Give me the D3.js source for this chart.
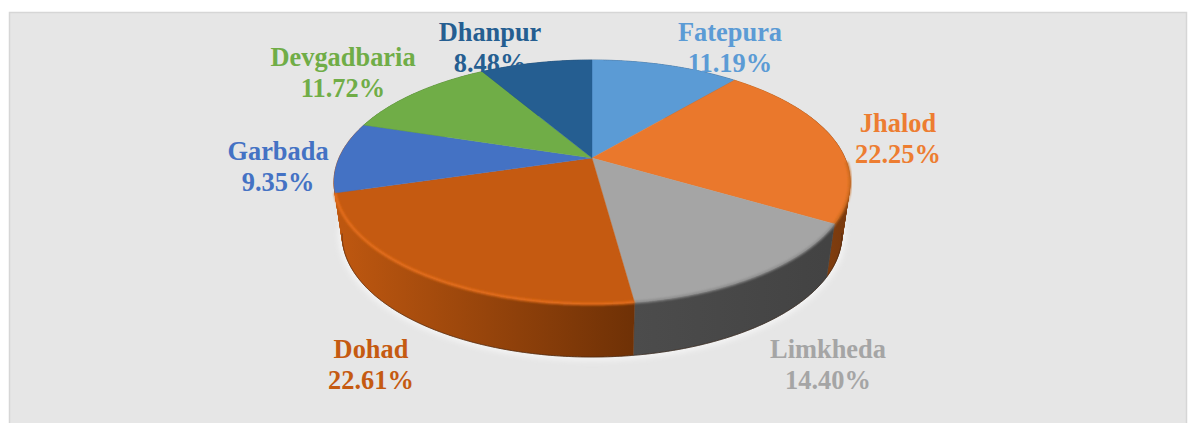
<!DOCTYPE html>
<html lang="en">
<head>
    <meta charset="UTF-8">
    <title>pie</title>
    <script src="https://d3js.org/d3.v7.min.js"></script>
    <style>
        body {
            margin: 0;
            background: white;
        }
        svg {
            display: block;
        }
        text {
            font-family: "Liberation Serif", serif;
            font-weight: bold;
            font-size: 26.4px;
            text-anchor: middle;
        }
    </style>
</head>
<body>
    <svg></svg>
    <script>
        // Chart values
        var categories = ["Fatepura", "Jhalod", "Limkheda", "Dohad", "Garbada", "Devgadbaria", "Dhanpur"];
        var shares = [11.19, 22.25, 14.40, 22.61, 9.35, 11.72, 8.48];
        var shareLabels = ["11.19%", "22.25%", "14.40%", "22.61%", "9.35%", "11.72%", "8.48%"];

        // Styles
        var topColors = ["#5b9bd5", "#ea782c", "#a5a5a5", "#c55a11", "#4472c4", "#70ad47", "#255e91"];
        var labelColors = ["#5b9bd5", "#ed7d31", "#a5a5a5", "#c55a11", "#4472c4", "#70ad47", "#255e91"];
        var bevelColors = ["#5b9bd5", "#c9691f", "#8c8c8c", "#e8701c", "#4472c4", "#70ad47", "#255e91"];
        // Garbada's wall only shows as a sliver next to Dohad, it reads as the same orange
        var sideStops = [
            ["#35597a", "#35597a"],
            ["#a8560f", "#7a3a0e"],
            ["#4c4c4c", "#434343"],
            ["#bd5710", "#6f3106"],
            ["#bd5710", "#bd5710"],
            ["#4a7230", "#4a7230"],
            ["#183e60", "#183e60"]
        ];

        // Label centres, first-line baseline
        var labelSpots = [[730, 41], [898, 132], [828, 358], [371, 358], [278, 160], [343, 66], [490, 41]];
        var lineGap = 30.5;

        var width = 1188, height = 423;
        var svg = d3.select("svg").attr("width", width).attr("height", height);
        var defs = svg.append("defs");

        defs.append("filter").attr("id", "soft")
            .attr("x", "-10%").attr("y", "-10%").attr("width", "120%").attr("height", "120%")
            .append("feGaussianBlur").attr("stdDeviation", 3);
        defs.append("filter").attr("id", "bevel")
            .attr("x", "-10%").attr("y", "-10%").attr("width", "120%").attr("height", "120%")
            .append("feGaussianBlur").attr("stdDeviation", 0.9);

        // Panel
        svg.append("rect").attr("x", 9.5).attr("y", 12.5).attr("width", 1177).attr("height", 420)
            .attr("fill", "#e6e6e6").attr("stroke", "#d6d6d6").attr("stroke-width", 1.5);

        // Perspective projection of the pie disc; k pulls the far side in
        var k = 0.1967;
        var levels = [
            {cx: 592, cy: 158, a: 253, b: 117.3},
            {cx: 592, cy: 211, a: 245, b: 117.3}
        ];
        function rim(angle, level) {
            var l = levels[level];
            var u = Math.sin(angle), v = -Math.cos(angle);
            var w = 1 - k * v;
            return [l.cx + l.a * u / w, l.cy + l.b * v / w];
        }
        function arcPoints(a0, a1, level) {
            var n = Math.max(2, Math.ceil((a1 - a0) / 0.01));
            return d3.range(n + 1).map(function(i) {
                return rim(a0 + (a1 - a0) * i / n, level);
            });
        }

        var slices = d3.pie().sort(null).value(function(d) { return d; })(shares);
        var line = d3.line();
        var outline = arcPoints(0, 2 * Math.PI, 1);

        // Halo around the lower edge
        svg.append("path").attr("d", line(outline) + "Z")
            .attr("fill", "none").attr("stroke", "#fafafa").attr("stroke-width", 5)
            .attr("filter", "url(#soft)");

        // Side wall, one ruled strip per slice
        var sides = svg.append("g");
        slices.forEach(function(s, i) {
            var top = arcPoints(s.startAngle, s.endAngle, 0);
            var bottom = arcPoints(s.startAngle, s.endAngle, 1);
            var d = "";
            for (var j = 0; j < top.length - 1; j++) {
                d += line([top[j], top[j + 1], bottom[j + 1], bottom[j]]) + "Z";
            }
            var grad = defs.append("linearGradient").attr("id", "side" + i)
                .attr("gradientUnits", "userSpaceOnUse")
                .attr("x1", d3.min(bottom, function(p) { return p[0]; })).attr("y1", 0)
                .attr("x2", d3.max(bottom, function(p) { return p[0]; })).attr("y2", 0);
            grad.append("stop").attr("offset", 0).attr("stop-color", sideStops[i][0]);
            grad.append("stop").attr("offset", 1).attr("stop-color", sideStops[i][1]);
            sides.append("path").attr("d", d)
                .attr("fill", "url(#side" + i + ")")
                .attr("stroke", "url(#side" + i + ")").attr("stroke-width", 0.5);
        });

        // Dark line along the bottom edge
        svg.append("path")
            .attr("d", line(arcPoints(slices[1].endAngle - 0.35, slices[3].endAngle + 0.1, 1)))
            .attr("fill", "none").attr("stroke", "#3a2416").attr("stroke-width", 1).attr("opacity", 0.55);

        // Top faces
        var tops = svg.append("g");
        slices.forEach(function(s, i) {
            var pts = [[levels[0].cx, levels[0].cy]].concat(arcPoints(s.startAngle, s.endAngle, 0));
            tops.append("path").attr("d", line(pts) + "Z").attr("fill", topColors[i])
                .attr("stroke", topColors[i]).attr("stroke-width", 0.4);
        });

        // Bevel along the front rim
        slices.forEach(function(s, i) {
            if (i < 1 || i > 3) return;
            var a0 = i === 1 ? s.startAngle + 0.9 : s.startAngle;
            svg.append("path").attr("d", line(arcPoints(a0, s.endAngle, 0)))
                .attr("fill", "none").attr("stroke", bevelColors[i])
                .attr("stroke-width", 2.5).attr("filter", "url(#bevel)");
        });

        // Labels
        var labels = svg.append("g").selectAll("text")
            .data(categories).enter().append("text")
            .attr("fill", function(d, i) { return labelColors[i]; });
        labels.append("tspan")
            .attr("x", function(d, i) { return labelSpots[i][0]; })
            .attr("y", function(d, i) { return labelSpots[i][1]; })
            .text(function(d) { return d; });
        labels.append("tspan")
            .attr("x", function(d, i) { return labelSpots[i][0]; })
            .attr("y", function(d, i) { return labelSpots[i][1] + lineGap; })
            .text(function(d, i) { return shareLabels[i]; });
    </script>
</body>
</html>
